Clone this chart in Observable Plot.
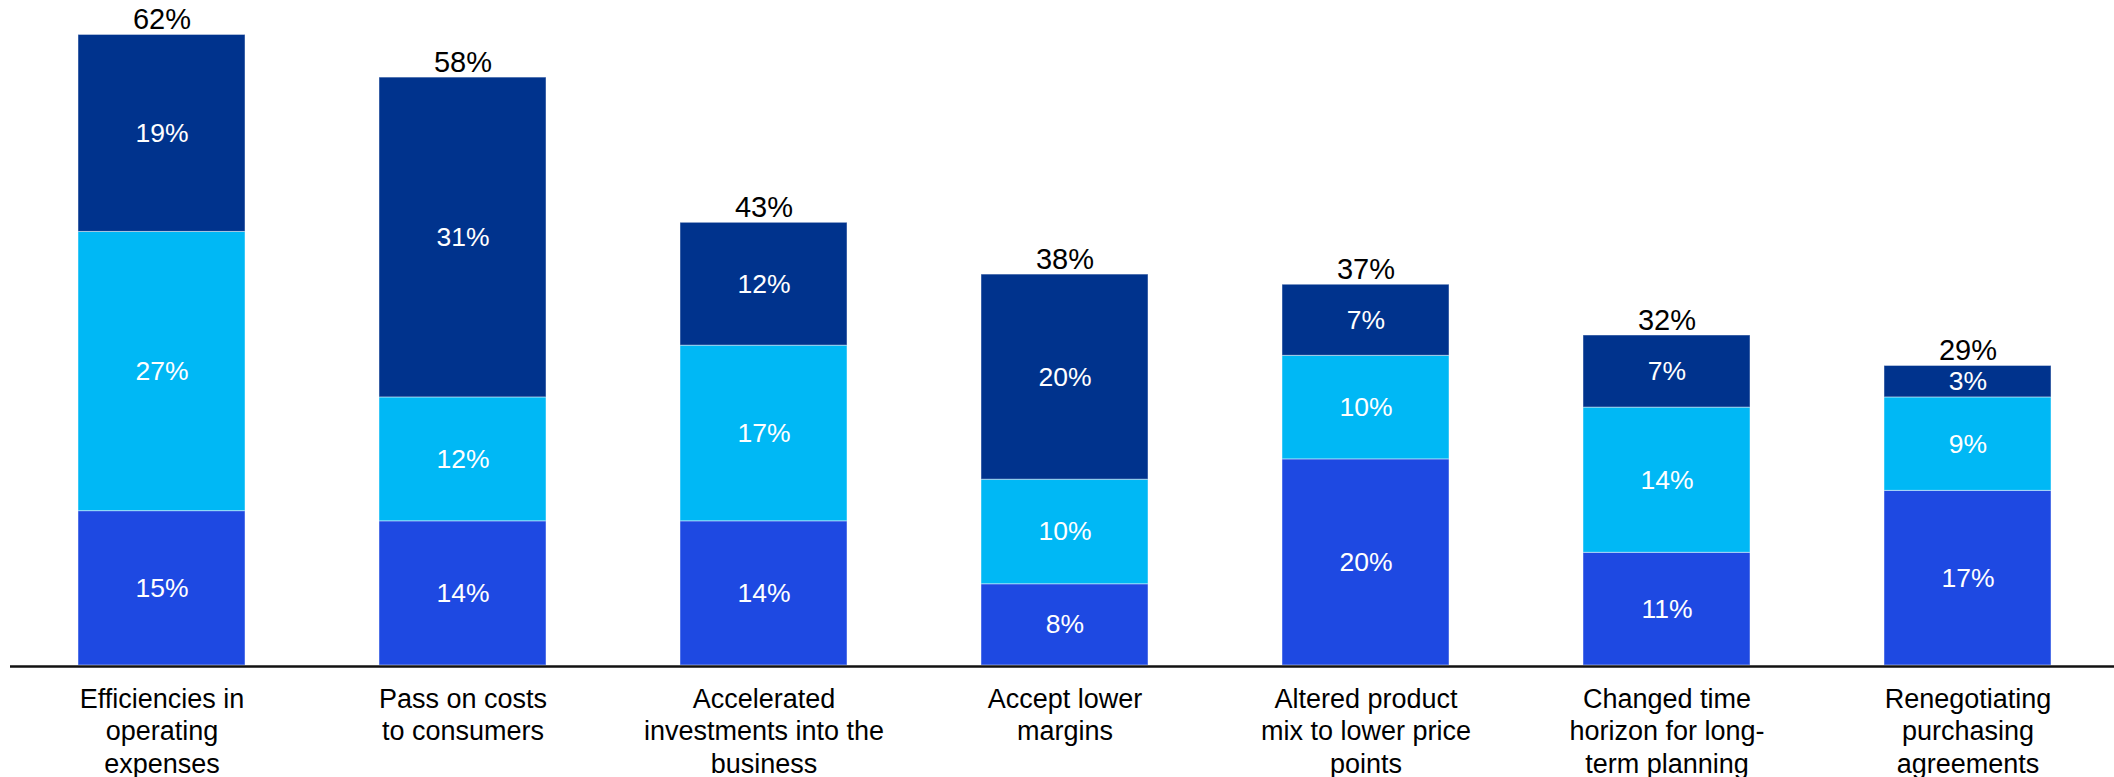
<!DOCTYPE html>
<html><head><meta charset="utf-8">
<script src="https://cdn.jsdelivr.net/npm/d3@7"></script>
<script src="https://cdn.jsdelivr.net/npm/@observablehq/plot@0.6"></script>
<style>html,body{margin:0;padding:0;background:#fff;} #chart svg{display:block;}</style>
</head><body><div id="chart"></div>
<script>
const categories = [
  "Efficiencies in operating expenses",
  "Pass on costs to consumers",
  "Accelerated investments into the business",
  "Accept lower margins",
  "Altered product mix to lower price points",
  "Changed time horizon for long-term planning",
  "Renegotiating purchasing agreements"
];
const tickLabels = [
  "Efficiencies in\noperating\nexpenses",
  "Pass on costs\nto consumers",
  "Accelerated\ninvestments into the\nbusiness",
  "Accept lower\nmargins",
  "Altered product\nmix to lower price\npoints",
  "Changed time\nhorizon for long-\nterm planning",
  "Renegotiating\npurchasing\nagreements"
];
const seriesNames = ["bottom", "middle", "top"];
const bottomValues = [15.2, 14.2, 14.2, 8.0, 20.3, 11.1, 17.2];
const middleValues = [27.5, 12.2, 17.3, 10.3, 10.2, 14.3, 9.2];
const topValues    = [19.4, 31.5, 12.1, 20.2, 7.0, 7.1, 3.1];
const bottomLabels = ["15%", "14%", "14%", "8%", "20%", "11%", "17%"];
const middleLabels = ["27%", "12%", "17%", "10%", "10%", "14%", "9%"];
const topLabels    = ["19%", "31%", "12%", "20%", "7%", "7%", "3%"];
const totalLabels  = ["62%", "58%", "43%", "38%", "37%", "32%", "29%"];
const colors = ["#1E49E2", "#00B8F5", "#00338D"];

const seriesValues = [bottomValues, middleValues, topValues];
const seriesLabels = [bottomLabels, middleLabels, topLabels];
const rows = [];
seriesNames.forEach((s, si) => {
  categories.forEach((c, i) => {
    rows.push({category: c, series: s, value: seriesValues[si][i], label: seriesLabels[si][i]});
  });
});
const totals = categories.map((c, i) => ({
  category: c,
  total: bottomValues[i] + middleValues[i] + topValues[i],
  label: totalLabels[i]
}));

const chart = Plot.plot({
  width: 2114,
  height: 777,
  marginTop: 5,
  marginBottom: 112,
  marginLeft: 10,
  marginRight: 0,
  x: {domain: categories, paddingInner: 0.4437, paddingOuter: 0.2131, align: 0.519},
  y: {domain: [0, 65], axis: null},
  color: {domain: seriesNames, range: colors},
  style: {fontFamily: "'Liberation Sans', Arial, sans-serif", fontSize: "27px", color: "#000", background: "#fff"},
  marks: [
    Plot.barY(rows, {x: "category", y: "value", fill: "series", stroke: "#fff", strokeOpacity: 0.45, strokeWidth: 1}),
    Plot.text(rows, Plot.stackY({x: "category", y: "value", z: "series", text: "label", fill: "white", fontSize: 26.5})),
    Plot.text(totals, {x: "category", y: "total", text: "label", lineAnchor: "bottom", dy: -6, fontSize: 29, fill: "black"}),
    Plot.ruleY([0], {stroke: "#111", strokeWidth: 2.5, dy: 1}),
    Plot.axisX({tickSize: 0, tickPadding: 20, tickFormat: d => tickLabels[categories.indexOf(d)], fontSize: 27, lineHeight: 1.19, label: null})
  ]
});
document.getElementById("chart").append(chart);
</script>
</body></html>
